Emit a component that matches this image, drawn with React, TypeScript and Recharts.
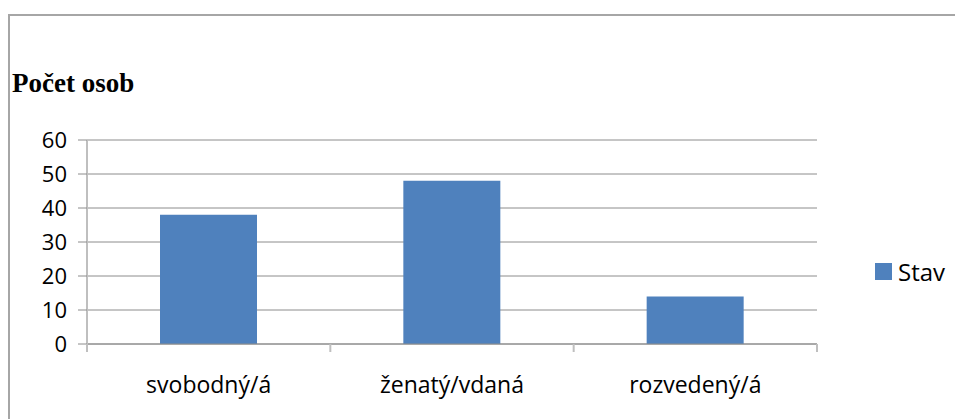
import { BarChart, Bar, XAxis, YAxis, CartesianGrid, Legend } from 'recharts';

const categories = ['svobodný/á', 'ženatý/vdaná', 'rozvedený/á'];
const stav = [38, 48, 14];
const yTicks = [0, 10, 20, 30, 40, 50, 60];

const data = categories.map((name, i) => ({ name, Stav: stav[i] }));

const SANS = '"Open Sans", "Noto Sans", sans-serif';
const EDGE = '#bfbfbf';

// category label plus tick marks at the band edges (Excel style)
function CategoryTick(props: any) {
  const { x, y, payload, index, visibleTicksCount } = props;
  const half = payload?.offset || 730 / 6;
  const top = y - 8;
  const isLast = index === (visibleTicksCount ?? categories.length) - 1;
  return (
    <g>
      <line x1={x - half} y1={top} x2={x - half} y2={y} stroke={EDGE} strokeWidth={2} />
      {isLast && <line x1={x + half} y1={top} x2={x + half} y2={y} stroke={EDGE} strokeWidth={2} />}
      <text x={x} y={y} dy={41} textAnchor="middle" fontFamily={SANS} fontSize={23} fill="#000">
        {payload.value}
      </text>
    </g>
  );
}

function LegendBox(props: any) {
  const item = props.payload?.[0];
  if (!item) return null;
  return (
    <div style={{ display: 'flex', alignItems: 'center', fontFamily: SANS, fontSize: 24, lineHeight: '33px', color: '#000' }}>
      <span style={{ width: 17, height: 17, background: item.color, display: 'inline-block', marginRight: 6 }} />
      <span>{item.value}</span>
    </div>
  );
}

export default function App() {
  return (
    <div style={{ position: 'absolute', left: 0, top: 0, width: 955, height: 419, overflow: 'hidden', background: '#fff' }}>
      {/* chart frame, cut off at the right and bottom */}
      <div style={{ position: 'absolute', left: 8, top: 14, width: 1000, height: 500, border: '2px solid #a6a6a6' }} />
      <div
        style={{
          position: 'absolute',
          left: 12,
          top: 70,
          fontFamily: '"Liberation Serif", "Times New Roman", serif',
          fontWeight: 'bold',
          fontSize: 27,
          lineHeight: 1,
          color: '#000',
        }}
      >
        Počet osob
      </div>
      <BarChart
        width={955}
        height={419}
        data={data}
        margin={{ top: 140, right: 138, left: 0, bottom: 0 }}
        barCategoryGap="30%"
        style={{ position: 'absolute', left: 0, top: 0 }}
      >
        <CartesianGrid vertical={false} stroke="#8c8c8c" />
        <XAxis
          dataKey="name"
          height={75}
          interval={0}
          axisLine={{ stroke: '#8c8c8c' }}
          tickLine={false}
          tickSize={8}
          tickMargin={0}
          tick={CategoryTick}
        />
        <YAxis
          width={87}
          domain={[0, 60]}
          ticks={yTicks}
          interval={0}
          axisLine={{ stroke: EDGE, strokeWidth: 2 }}
          tickLine={{ stroke: '#8c8c8c' }}
          tickSize={9}
          tickMargin={11}
          tick={{ fontFamily: SANS, fontSize: 22, fill: '#000' }}
        />
        <Legend
          content={LegendBox}
          layout="horizontal"
          verticalAlign="middle"
          align="center"
          wrapperStyle={{ position: 'absolute', left: 875, top: 255, width: 'auto' }}
        />
        <Bar dataKey="Stav" fill="#4f81bd" isAnimationActive={false} />
      </BarChart>
    </div>
  );
}
